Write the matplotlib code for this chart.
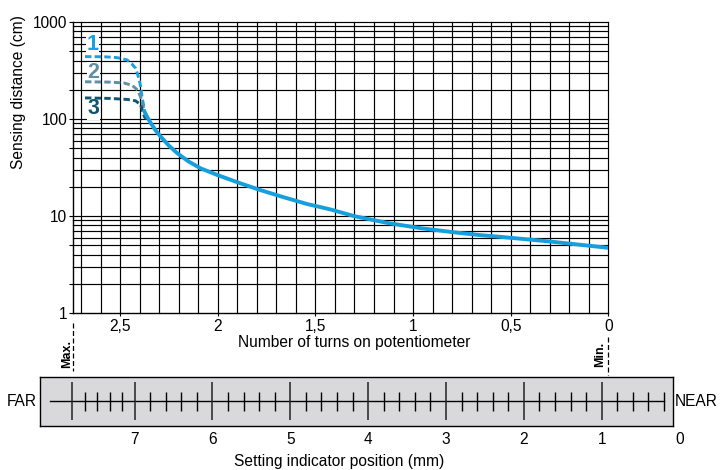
import numpy as np
import matplotlib
matplotlib.use("Agg")
import matplotlib.pyplot as plt
from matplotlib.ticker import FuncFormatter, MultipleLocator, LogLocator, NullFormatter
from matplotlib.transforms import blended_transform_factory

plt.rcParams['font.family'] = ['Liberation Sans', 'DejaVu Sans']

# main curve: sensing distance vs potentiometer turns
turns_main = [2.38, 2.365, 2.345, 2.32, 2.293, 2.25, 2.208, 2.15, 2.088, 2.003, 1.884,
              1.782, 1.662, 1.543, 1.424, 1.304, 1.134, 0.963, 0.793, 0.656, 0.554, 0.315, 0.0]
dist_main = [125, 108, 92, 77, 66, 53, 44.5, 36.5, 31, 26.5, 21.7,
             18.5, 15.6, 13.3, 11.7, 10.0, 8.5, 7.5, 6.8, 6.35, 6.1, 5.5, 4.7]

# dashed branches 1, 2, 3 near max setting
turns_1 = [2.68, 2.58, 2.52, 2.49, 2.463, 2.44, 2.421, 2.404, 2.395, 2.387, 2.375]
dist_1 = [440, 438, 430, 420, 405, 370, 333, 262, 215, 163, 125]
turns_2 = [2.68, 2.55, 2.48, 2.438, 2.41, 2.395, 2.382, 2.375]
dist_2 = [242, 240, 235, 222, 198, 168, 135, 125]
turns_3 = [2.68, 2.55, 2.463, 2.421, 2.395, 2.385, 2.375, 2.365]
dist_3 = [165, 163, 159, 154, 140, 120, 105, 100]

branch_names = ['1', '2', '3']
branch_label_pos = [(2.643, 580), (2.637, 300), (2.637, 127)]
colors = ['#1aa1df', '#5f8fa5', '#10566d']
main_color = '#159fdc'

# setting indicator scale (mm)
scale_major_mm = [7.8, 7, 6, 5, 4, 3, 2, 1]
scale_end_mm = 0.2
scale_labels = [7, 6, 5, 4, 3, 2, 1, 0]

W, H = 720, 470
FS = 11.2


def fx(px):
    return px / W


def fy(py):
    return 1 - py / H


fig = plt.figure(figsize=(7.2, 4.7), dpi=100)

# ---- main chart ----
ax = fig.add_axes([fx(73.3), fy(313), (608.3 - 73.3) / W, (313 - 22) / H])
ax.set_yscale('log')
ax.set_xlim(2.74, 0)
ax.set_ylim(1, 1000)

for t in np.arange(0, 2.75, 0.1):
    ax.axvline(t, color='black', lw=0.85, zorder=1, clip_on=False)
for d in [1, 10, 100]:
    for k in range(2, 11):
        ax.axhline(k * d, color='black', lw=0.85, zorder=1, clip_on=False)

for s in ['top', 'right']:
    ax.spines[s].set_visible(False)
for s in ['left', 'bottom']:
    ax.spines[s].set_linewidth(1.0)

ax.xaxis.set_major_locator(MultipleLocator(0.5))
ax.xaxis.set_major_formatter(FuncFormatter(lambda v, p: f'{v:g}'.replace('.', ',')))
ax.yaxis.set_major_locator(LogLocator(base=10))
ax.yaxis.set_minor_locator(LogLocator(base=10, subs=(2, 5)))
ax.yaxis.set_minor_formatter(NullFormatter())
ax.yaxis.set_major_formatter(FuncFormatter(lambda v, p: f'{v:g}'))
ax.tick_params(axis='x', which='major', length=2, width=0.8, pad=2.5, labelsize=FS)
ax.tick_params(axis='x', which='minor', length=0)
ax.tick_params(axis='y', which='both', length=2.7, width=0.8, pad=1.5, labelsize=FS)

ax.plot(turns_main, dist_main, color=main_color, lw=2.8, solid_capstyle='butt', zorder=4)
branches = [(turns_1, dist_1), (turns_2, dist_2), (turns_3, dist_3)]
for (tx, dy), c in zip(branches, colors):
    ax.plot(tx, dy, color=c, lw=2.1, linestyle=(0, (2.2, 1.1)), zorder=3)
for name, (lx, ly), c in zip(branch_names, branch_label_pos, colors):
    ax.text(lx, ly, name, color=c, fontsize=15.5, fontweight='bold', ha='center', va='center',
            zorder=2, bbox=dict(facecolor='white', edgecolor='none', pad=0.3))

# max / min markers under the axis
trans = blended_transform_factory(ax.transData, ax.transAxes)
ax.plot([2.74, 2.74], [-0.033, -0.198], transform=trans, clip_on=False,
        color='black', lw=0.9, linestyle=(0, (4, 2)))
ax.plot([0, 0], [-0.081, -0.213], transform=trans, clip_on=False,
        color='black', lw=0.9, linestyle=(0, (4, 2)))
fig.text(fx(66.7), fy(354), 'Max.', rotation=90, fontsize=9, fontweight='bold',
         ha='center', va='center')
fig.text(fx(600), fy(354), 'Min.', rotation=90, fontsize=9, fontweight='bold',
         ha='center', va='center')

fig.text(fx(354), fy(342.5), 'Number of turns on potentiometer', fontsize=FS,
         ha='center', va='center')
fig.text(fx(19), fy(92), 'Sensing distance (cm)', rotation=90, fontsize=FS,
         ha='center', va='center')

# ---- setting indicator scale ----
ax2 = fig.add_axes([fx(40.3), fy(425.7), (673 - 40.3) / W, (425.7 - 376.7) / H])
ax2.set_facecolor('#d9d9db')
ax2.set_xlim(8.21, 0.085)
ax2.set_ylim(-1, 1)
ax2.set_xticks([])
ax2.set_yticks([])
for s in ax2.spines.values():
    s.set_linewidth(1.0)

ax2.plot([8.08, scale_end_mm], [0, 0], color='black', lw=1.0)
ax2.vlines(scale_major_mm, -0.78, 0.78, color='#222222', lw=1.1)
minor_mm = []
for a, b in zip(scale_major_mm[:-1], scale_major_mm[1:]):
    minor_mm += list(np.linspace(a, b, 6)[1:-1])
minor_mm += list(np.arange(scale_major_mm[-1] - 0.2, scale_end_mm - 0.01, -0.2))
ax2.vlines(minor_mm, -0.39, 0.39, color='black', lw=1.0)

trans2 = blended_transform_factory(ax2.transData, ax2.transAxes)
for v in scale_labels:
    ax2.text(v, -0.29, str(v), transform=trans2, fontsize=FS, ha='center', va='center',
             clip_on=False)

fig.text(fx(37), fy(402), 'FAR', fontsize=FS, ha='right', va='center')
fig.text(fx(675), fy(402), 'NEAR', fontsize=FS, ha='left', va='center')
fig.text(fx(339), fy(461.7), 'Setting indicator position (mm)', fontsize=FS,
         ha='center', va='center')

fig.savefig('out.png', dpi=100)
